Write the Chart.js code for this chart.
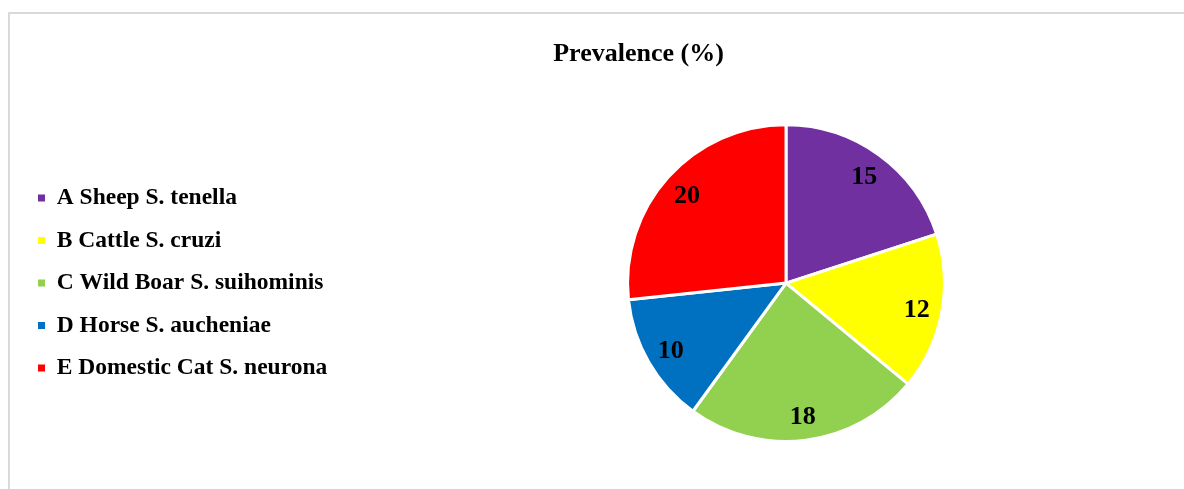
<!DOCTYPE html>
<html>
<head>
<meta charset="utf-8">
<script src="https://cdn.jsdelivr.net/npm/chart.js@4"></script>
<style>
  body { margin: 0; background: #fff; overflow: hidden; }
  #frame {
    position: absolute; left: 8px; top: 12px;
    width: 1260px; height: 500px;
    border-left: 2px solid #d9d9d9; border-top: 2px solid #d9d9d9;
  }
  #wrap { position: absolute; left: 0; top: 0; width: 1184px; height: 489px; }
</style>
</head>
<body>
<div id="frame"></div>
<div id="wrap"><canvas id="myChart"></canvas></div>
<script>
const labels = ['A Sheep S. tenella', 'B Cattle S. cruzi', 'C Wild Boar S. suihominis', 'D Horse S. aucheniae', 'E Domestic Cat S. neurona'];
const prevalence = [15, 12, 18, 10, 20];
const colors = ['#7030a0', '#ffff00', '#92d050', '#0070c0', '#ff0000'];

const serif = '"Liberation Serif", "Times New Roman", serif';

// draw the value inside each slice
const sliceLabels = {
  id: 'sliceLabels',
  afterDatasetsDraw(chart) {
    const ctx = chart.ctx;
    const meta = chart.getDatasetMeta(0);
    ctx.save();
    ctx.font = 'bold 26px ' + serif;
    ctx.fillStyle = '#000';
    ctx.textAlign = 'center';
    ctx.textBaseline = 'middle';
    meta.data.forEach((arc, i) => {
      const p = arc.getProps(['x', 'y', 'startAngle', 'endAngle', 'outerRadius'], true);
      const mid = (p.startAngle + p.endAngle) / 2;
      const r = p.outerRadius * 0.84;
      ctx.fillText(chart.data.datasets[0].data[i], p.x + Math.cos(mid) * r, p.y + Math.sin(mid) * r + 2);
    });
    ctx.restore();
  }
};

// fixed width for the legend column so the pie sits on the right,
// and the title nudged right of the canvas centre
const layoutTweaks = {
  id: 'layoutTweaks',
  beforeInit(chart) {
    const fit = chart.legend.fit;
    chart.legend.fit = function () {
      fit.call(this);
      this.width = 369;
    };
  },
  afterLayout(chart) {
    chart.titleBlock.left += 37;
    chart.titleBlock.right += 37;
  }
};

var ctx = document.getElementById('myChart');

var myChart = new Chart(ctx, {
  type: 'pie',
  data: {
    labels: labels,
    datasets: [{
      data: prevalence,
      backgroundColor: colors,
      borderColor: '#ffffff',
      borderWidth: 3,
    }]
  },
  options: {
    responsive: true,
    maintainAspectRatio: false,
    animation: false,
    layout: { padding: { top: 0, bottom: 46, left: 19, right: 0 } },
    plugins: {
      title: {
        display: true,
        text: 'Prevalence (%)',
        color: '#000',
        font: { family: serif, size: 26, weight: 'bold' },
        padding: { top: 39, bottom: 53 }
      },
      legend: {
        position: 'left',
        align: 'center',
        fullSize: false,
        labels: {
          color: '#000',
          boxWidth: 7,
          boxHeight: 7,
          padding: 19,
          font: { family: serif, size: 23.5, weight: 'bold' },
          generateLabels(chart) {
            const items = Chart.overrides.pie.plugins.legend.labels.generateLabels(chart);
            items.forEach(item => { item.lineWidth = 0; });
            return items;
          }
        }
      },
      tooltip: { enabled: false }
    }
  },
  plugins: [sliceLabels, layoutTweaks]
});
</script>
</body>
</html>
